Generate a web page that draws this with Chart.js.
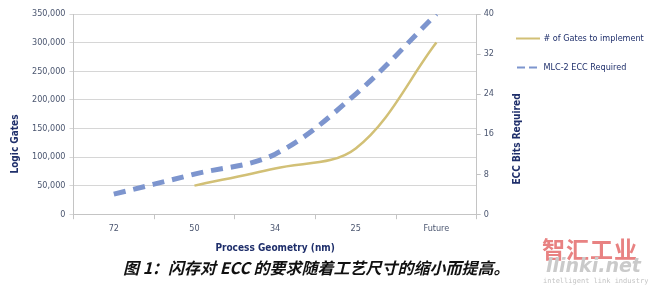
<!DOCTYPE html>
<html>
<head>
<meta charset="utf-8">
<script src="https://cdn.jsdelivr.net/npm/chart.js@4.4.1/dist/chart.umd.min.js"></script>
<style>
  html, body { margin: 0; padding: 0; background: #fff; }
  #wrap { position: relative; width: 650px; height: 293px; overflow: hidden; }
  #chartBox { position: absolute; left: 0; top: 0; width: 650px; height: 256px; }
  #caption {
    position: absolute; left: 123px; top: 255px;
    font-family: "Noto Sans CJK SC", sans-serif; font-size: 16px;
    font-weight: bold; font-style: italic; color: #111; white-space: nowrap;
  }
  #wm1 { position: absolute; left: 542px; top: 231px; font-family: "Noto Sans CJK SC", sans-serif;
    font-size: 23px; font-weight: bold; color: #e88282; letter-spacing: 1px; white-space: nowrap; }
  #wm2 { position: absolute; left: 546px; top: 254px; font-family: "DejaVu Sans", sans-serif;
    font-size: 19px; font-weight: bold; font-style: italic; color: #cacaca; white-space: nowrap; }
  #wm3 { position: absolute; left: 543px; top: 277px; font-family: "DejaVu Sans Mono", monospace;
    font-size: 7px; color: #c4c4c4; white-space: nowrap; }
</style>
</head>
<body>
<div id="wrap">
  <div id="chartBox"><canvas id="eccChart"></canvas></div>
  <div id="caption">图 1：闪存对 ECC 的要求随着工艺尺寸的缩小而提高。</div>
  <div id="wm1">智汇工业</div>
  <div id="wm2">llinki.net</div>
  <div id="wm3">intelligent link industry</div>
</div>
<script>
// Données
const categories = ['72', '50', '34', '25', 'Future'];
const gatesValues = [null, 50000, 80000, 115000, 300000];
const eccValues = [4, 8, 12, 24, 40];

const NAVY = '#1f2f6b';
const TICK_COLOR = '#4b5670';
const AXIS_COLOR = '#c4c4c4';
const FONT = '"DejaVu Sans Condensed", "Noto Sans", sans-serif';

// Titres des axes Y dessinés à la main (placement comme l'original)
const yTitles = {
    id: 'yTitles',
    afterDraw(chart) {
        const { ctx, chartArea } = chart;
        ctx.save();
        ctx.font = 'bold 10px ' + FONT;
        ctx.fillStyle = NAVY;
        ctx.textAlign = 'center';
        ctx.textBaseline = 'middle';

        ctx.save();
        ctx.translate(15, chartArea.top + 130);
        ctx.rotate(-Math.PI / 2);
        ctx.fillText('Logic Gates', 0, 0);
        ctx.restore();

        ctx.save();
        ctx.translate(chartArea.right + 41, chartArea.top + 125);
        ctx.rotate(-Math.PI / 2);
        ctx.fillText('ECC Bits Required', 0, 0);
        ctx.restore();

        ctx.restore();
    }
};

const defaultLabels = Chart.defaults.plugins.legend.labels.generateLabels;

const ctx = document.getElementById('eccChart').getContext('2d');
new Chart(ctx, {
    type: 'line',
    data: {
        labels: categories,
        datasets: [
            {
                label: '# of Gates to implement',
                data: gatesValues,
                yAxisID: 'y',
                borderColor: 'rgb(210,192,118)',
                borderWidth: 2.5,
                pointRadius: 0,
                tension: 0.35,
                fill: false
            },
            {
                label: 'MLC-2 ECC Required',
                data: eccValues,
                yAxisID: 'y1',
                borderColor: '#7d95ce',
                borderWidth: 5,
                borderDash: [12, 8],
                pointRadius: 0,
                tension: 0.35,
                fill: false
            }
        ]
    },
    options: {
        responsive: true,
        maintainAspectRatio: false,
        animation: false,
        layout: { padding: { left: 28, right: 0, top: 14, bottom: 2 } },
        plugins: {
            tooltip: { enabled: false },
            legend: {
                position: 'right',
                align: 'start',
                maxWidth: 153,
                labels: {
                    boxWidth: 22,
                    boxHeight: 0.01,
                    padding: 20,
                    color: NAVY,
                    font: { family: FONT, size: 9 },
                    // trait fin dans la légende, pointillé court pour l'ECC
                    generateLabels: chart => defaultLabels(chart).map(item => ({
                        ...item,
                        fillStyle: 'transparent',
                        lineWidth: 2,
                        lineCap: 'butt',
                        lineDash: item.lineDash && item.lineDash.length ? [7, 5] : []
                    }))
                }
            }
        },
        scales: {
            x: {
                offset: true,
                grid: { display: true, drawOnChartArea: false, offset: true, tickLength: 5, color: AXIS_COLOR },
                border: { color: AXIS_COLOR },
                ticks: { color: TICK_COLOR, font: { family: FONT, size: 9 }, padding: 4 },
                title: {
                    display: true,
                    text: 'Process Geometry (nm)',
                    color: NAVY,
                    font: { family: FONT, size: 10, weight: 'bold' },
                    padding: { top: 4, bottom: 0 }
                }
            },
            y: {
                position: 'left',
                min: 0,
                max: 350000,
                ticks: {
                    stepSize: 50000,
                    color: TICK_COLOR,
                    font: { family: FONT, size: 9 },
                    padding: 4,
                    callback: v => v.toLocaleString('en-US')
                },
                grid: { color: '#d6d6d6', tickLength: 4 },
                border: { color: AXIS_COLOR }
            },
            y1: {
                position: 'right',
                min: 0,
                max: 40,
                ticks: {
                    stepSize: 8,
                    color: TICK_COLOR,
                    font: { family: FONT, size: 9 },
                    padding: 3
                },
                grid: { drawOnChartArea: false, tickLength: 4, color: AXIS_COLOR },
                border: { color: AXIS_COLOR }
            }
        }
    },
    plugins: [yTitles]
});
</script>
</body>
</html>
